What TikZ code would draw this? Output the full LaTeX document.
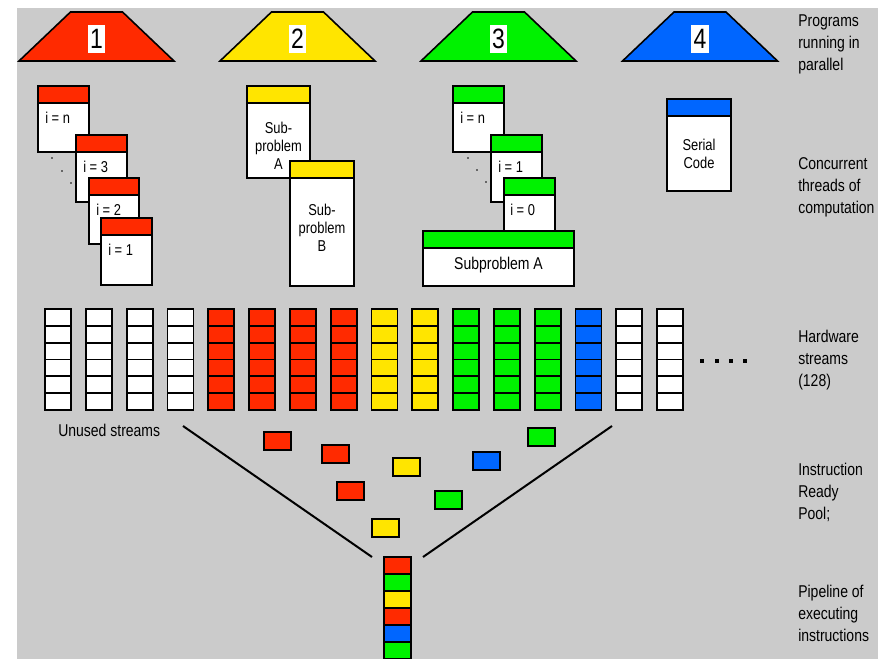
\documentclass[tikz,border=0pt]{standalone}
\usepackage{fontspec}
\setmainfont[FakeStretch=0.82]{Liberation Sans}
\definecolor{cr}{RGB}{255,42,0}
\definecolor{cy}{RGB}{255,229,0}
\definecolor{cg}{RGB}{0,242,0}
\definecolor{cb}{RGB}{0,102,255}
\definecolor{bg}{RGB}{203,203,203}
% thread box: left, top, width, height, header colour, name
\newcommand\thr[6]{%
  \draw[boxline,fill=white] (#1,#2) rectangle ++(#3,#4);
  \draw[boxline,fill=#5] (#1,#2) rectangle ++(#3,17);
  \coordinate (#6) at (#1,#2);}
\tikzset{
  boxline/.style={draw=black,line width=1.2pt},
  cell/.style={draw=black,line width=1.35pt},
  num/.style={fill=white,inner sep=0pt,minimum width=13pt,minimum height=21pt,font=\fontsize{21}{21}\selectfont},
  small/.style={inner sep=0pt,font=\fontsize{11.8}{13.5}\selectfont},
  lbl/.style={inner sep=0pt,anchor=west,align=left,font=\fontsize{12.8}{16.5}\selectfont},
  funnel/.style={line width=1.5pt,black}
}
\begin{document}
\begin{tikzpicture}[x=0.75pt,y=-0.75pt]
\useasboundingbox (0,0) rectangle (884,659);
\fill[white] (0,0) rectangle (884,659);
\fill[bg] (17,8) rectangle (878,659);

% programs running in parallel
\foreach \c/\col/\n in {96.5/cr/1,297.5/cy/2,498.5/cg/3,700/cb/4}{
  \draw[boxline,fill=\col] (\c-77.5,61) -- (\c-26,12) -- (\c+26,12) -- (\c+77.5,61) -- cycle;
  \node[num] (p\n) at (\c,39) {\n};
}

% program 1: loop iterations
\thr{38}{86}{51}{66}{cr}{a1}
\node[small,anchor=west] (ta1) at (45,118) {i = n};
\thr{76}{135}{51}{67}{cr}{a2}
\node[small,anchor=west] (ta2) at (83,167) {i = 3};
\thr{89}{178}{50}{66}{cr}{a3}
\node[small,anchor=west] (ta3) at (96,210) {i = 2};
\thr{101}{218}{51}{67}{cr}{a4}
\node[small,anchor=west] (ta4) at (108,250) {i = 1};
\foreach \px/\py in {52/158,62/171,71/183}{\fill (\px,\py) circle (0.9);}

% program 2: two sub-problems
\thr{247}{86}{63}{92}{cy}{b1}
\node[small,align=center] (tb1) at (278.5,146) {Sub-\\problem\\A};
\thr{290}{161}{64}{125}{cy}{b2}
\node[small,align=center] (tb2) at (322,228) {Sub-\\problem\\B};

% program 3: loop inside a sub-problem
\thr{453}{86}{51}{66}{cg}{c1}
\node[small,anchor=west] (tc1) at (460,118) {i = n};
\thr{491}{135}{51}{67}{cg}{c2}
\node[small,anchor=west] (tc2) at (498,167) {i = 1};
\thr{504}{178}{51}{60}{cg}{c3}
\node[small,anchor=west] (tc3) at (510,210) {i = 0};
\foreach \px/\py in {468/158,477/170,486/182}{\fill (\px,\py) circle (0.9);}
\thr{423}{231}{151}{55}{cg}{c4}
\node[inner sep=0pt,font=\fontsize{12.8}{15}\selectfont] (tc4) at (498.5,265) {Subproblem A};

% program 4: serial code
\thr{667}{99}{64}{92}{cb}{d1}
\node[small,align=center] (td1) at (699,154) {Serial\\Code};

% hardware streams
\foreach \c [count=\k from 0] in {white,white,white,white,cr,cr,cr,cr,cy,cy,cg,cg,cg,cb,white,white}{
  \foreach \r in {0,...,5}{
    \draw[cell,fill=\c] ({45+40.8*\k},{309+16.83*\r}) rectangle ++(26,16.83);
  }
}
\foreach \px in {702,716.5,731,744.5}{\fill (\px-2,359) rectangle (\px+2,363);}
\node[lbl,font=\fontsize{12.8}{15}\selectfont] (unused) at (58,430) {Unused streams};

% instruction ready pool
\foreach \px/\py/\col in {264/432/cr,322/445/cr,393/458/cy,337/482/cr,372/519/cy,435/491/cg,473/452/cb,528/428/cg}{
  \draw[cell,fill=\col] (\px,\py) rectangle ++(27,18);
}
\coordinate (fl1) at (183,426);
\coordinate (fl2) at (372,557);
\coordinate (fr1) at (612,426);
\coordinate (fr2) at (423,557);
\draw[funnel] (fl1) -- (fl2);
\draw[funnel] (fr1) -- (fr2);

% executing pipeline
\foreach \col [count=\k from 0] in {cr,cg,cy,cr,cb,cg}{
  \draw[cell,fill=\col] (384,{557+17*\k}) rectangle ++(27,17);
}

% row captions
\node[lbl] (l1) at (798,44) {Programs\\running in\\parallel};
\node[lbl] (l2) at (798,187) {Concurrent\\threads of\\computation};
\node[lbl] (l3) at (798,360) {Hardware\\streams\\(128)};
\node[lbl] (l4) at (798,492) {Instruction\\Ready\\Pool;};
\node[lbl] (l5) at (798,613) {Pipeline of\\executing\\instructions};
\end{tikzpicture}
\end{document}
